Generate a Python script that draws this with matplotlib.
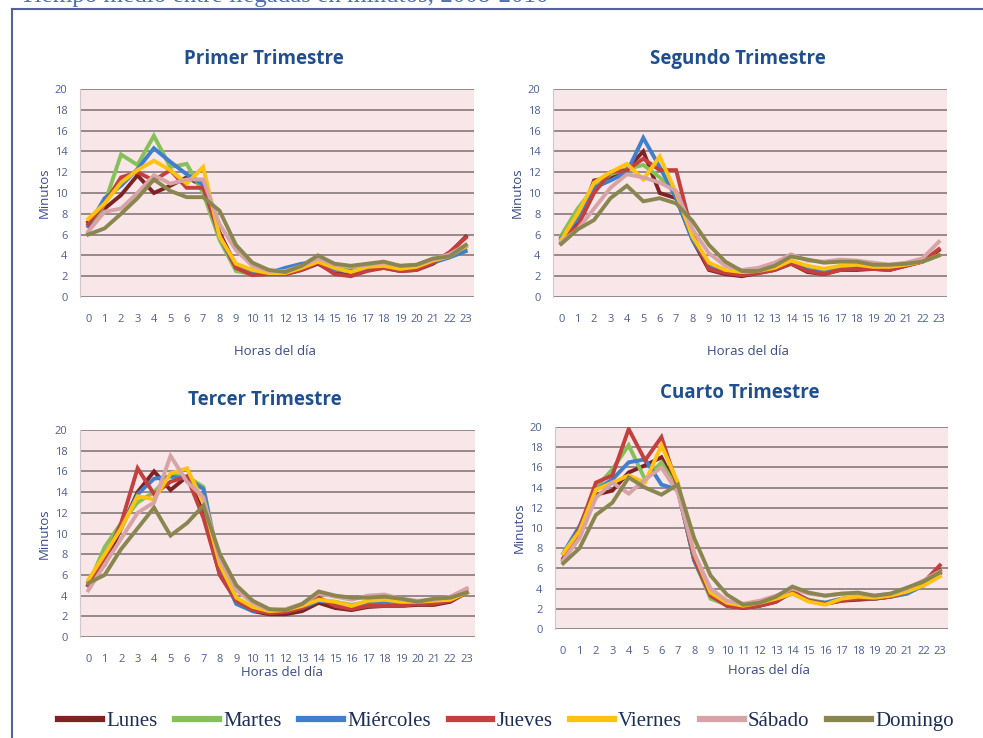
import matplotlib
matplotlib.use("Agg")
import matplotlib.pyplot as plt
from matplotlib.lines import Line2D
import numpy as np

hours = list(range(24))
hour_labels = [str(h) for h in hours]
days = ["Lunes", "Martes", "Miércoles", "Jueves", "Viernes", "Sábado", "Domingo"]
colors = ["#7e2224", "#85c058", "#3f7fcc", "#c4403f", "#ffc20e", "#d8a3a6", "#8a8650"]
titles = ["Primer Trimestre", "Segundo Trimestre", "Tercer Trimestre", "Cuarto Trimestre"]
yticks = [0, 2, 4, 6, 8, 10, 12, 14, 16, 18, 20]

q1_lunes =     [7.2, 8.5, 9.8, 11.7, 10.0, 10.7, 11.5, 10.7, 6.2, 3.0, 2.2, 2.2, 2.2, 2.6, 3.2, 2.3, 2.1, 2.6, 2.8, 2.5, 2.6, 3.2, 4.2, 5.8]
q1_martes =    [6.2, 9.0, 13.7, 12.7, 15.5, 12.5, 12.8, 10.0, 5.5, 2.5, 2.2, 2.3, 2.4, 2.8, 3.5, 2.8, 2.6, 2.9, 3.0, 2.7, 2.8, 3.5, 3.8, 4.8]
q1_miercoles = [6.8, 9.5, 10.7, 12.3, 14.3, 13.0, 11.8, 10.8, 5.8, 2.8, 2.3, 2.3, 2.8, 3.2, 3.4, 2.6, 2.5, 2.7, 2.9, 2.7, 2.7, 3.3, 3.8, 4.4]
q1_jueves =    [7.0, 9.0, 11.5, 12.0, 11.2, 12.2, 10.5, 10.5, 6.0, 2.8, 2.1, 2.2, 2.2, 2.6, 3.3, 2.2, 2.0, 2.5, 2.8, 2.5, 2.6, 3.3, 4.3, 5.7]
q1_viernes =   [7.5, 9.0, 11.0, 12.2, 13.1, 12.2, 10.9, 12.5, 5.8, 3.2, 2.6, 2.3, 2.3, 2.8, 3.4, 2.8, 2.4, 2.9, 3.0, 2.7, 2.9, 3.5, 3.9, 4.9]
q1_sabado =    [6.3, 8.2, 8.5, 10.0, 11.7, 10.9, 11.3, 11.3, 7.0, 4.5, 3.0, 2.5, 2.5, 3.0, 3.7, 3.1, 2.9, 3.1, 3.3, 3.0, 3.1, 3.6, 4.1, 5.0]
q1_domingo =   [6.0, 6.6, 8.0, 9.5, 11.3, 10.2, 9.6, 9.6, 8.3, 5.0, 3.3, 2.6, 2.4, 3.0, 4.0, 3.2, 3.0, 3.2, 3.4, 3.0, 3.1, 3.7, 3.9, 5.0]

q2_lunes =     [5.2, 7.0, 11.2, 11.5, 12.3, 14.0, 10.0, 9.5, 5.5, 2.6, 2.2, 2.0, 2.3, 2.6, 3.2, 2.4, 2.2, 2.6, 2.6, 2.7, 2.6, 3.0, 3.4, 4.5]
q2_martes =    [5.9, 8.5, 10.5, 11.8, 12.3, 12.7, 11.5, 10.0, 5.8, 3.0, 2.5, 2.4, 2.5, 2.8, 3.5, 2.8, 2.6, 2.9, 3.0, 2.9, 2.9, 3.1, 3.4, 4.0]
q2_miercoles = [5.7, 7.5, 10.5, 11.2, 12.0, 15.3, 12.5, 9.5, 5.5, 3.0, 2.5, 2.3, 2.4, 2.6, 3.3, 2.6, 2.4, 2.7, 2.9, 2.8, 2.8, 3.1, 3.4, 4.0]
q2_jueves =    [5.5, 6.8, 10.0, 12.0, 12.2, 13.3, 12.2, 12.2, 6.0, 2.7, 2.3, 2.1, 2.3, 2.6, 3.2, 2.5, 2.2, 2.6, 2.7, 2.7, 2.6, 3.0, 3.4, 4.6]
q2_viernes =   [5.5, 8.0, 11.0, 12.0, 12.8, 11.3, 13.5, 10.0, 5.8, 3.3, 2.6, 2.4, 2.5, 2.8, 3.5, 3.0, 2.7, 3.0, 3.1, 2.9, 2.9, 3.1, 3.4, 4.0]
q2_sabado =    [5.3, 6.5, 8.5, 10.5, 11.8, 11.5, 11.0, 10.2, 6.5, 4.2, 3.0, 2.6, 2.8, 3.3, 4.1, 3.5, 3.4, 3.6, 3.5, 3.3, 3.1, 3.3, 3.7, 5.3]
q2_domingo =   [5.1, 6.5, 7.4, 9.5, 10.7, 9.2, 9.5, 9.0, 7.3, 5.0, 3.4, 2.5, 2.5, 3.0, 3.9, 3.6, 3.3, 3.4, 3.4, 3.1, 3.1, 3.2, 3.4, 4.0]

q3_lunes =     [5.0, 7.0, 10.5, 14.0, 16.0, 14.2, 15.5, 12.0, 6.0, 3.5, 2.5, 2.2, 2.2, 2.5, 3.3, 2.8, 2.6, 2.9, 3.0, 3.0, 3.1, 3.1, 3.4, 4.3]
q3_martes =    [5.0, 8.7, 11.0, 13.0, 14.0, 15.7, 15.5, 14.5, 6.8, 3.2, 2.5, 2.5, 2.6, 2.9, 3.6, 3.4, 3.1, 3.4, 3.4, 3.2, 3.3, 3.4, 3.6, 4.3]
q3_miercoles = [5.0, 8.0, 10.5, 13.8, 15.3, 15.5, 15.3, 14.3, 6.5, 3.2, 2.5, 2.5, 2.5, 2.8, 3.5, 3.3, 3.0, 3.3, 3.4, 3.2, 3.2, 3.3, 3.6, 4.3]
q3_jueves =    [5.0, 7.5, 11.0, 16.3, 13.8, 15.0, 15.5, 11.5, 6.0, 3.5, 2.6, 2.3, 2.4, 2.8, 3.8, 3.0, 2.7, 3.0, 3.0, 3.0, 3.2, 3.2, 3.5, 4.3]
q3_viernes =   [5.5, 8.0, 10.5, 13.6, 13.3, 15.8, 16.3, 13.0, 7.0, 3.8, 2.9, 2.5, 2.6, 3.0, 3.6, 3.4, 3.0, 3.5, 3.6, 3.4, 3.4, 3.5, 3.6, 4.3]
q3_sabado =    [4.5, 7.0, 9.5, 12.0, 13.0, 17.5, 15.0, 13.5, 7.5, 4.5, 3.3, 2.6, 2.7, 3.2, 4.2, 3.9, 3.6, 4.0, 4.1, 3.7, 3.5, 3.6, 3.9, 4.7]
q3_domingo =   [5.2, 6.0, 8.5, 10.5, 12.5, 9.8, 11.0, 12.7, 8.0, 5.0, 3.5, 2.7, 2.6, 3.2, 4.4, 4.0, 3.8, 3.8, 3.9, 3.7, 3.4, 3.7, 3.8, 4.3]

q4_lunes =     [6.8, 9.5, 13.3, 13.7, 15.5, 16.2, 17.0, 13.8, 6.8, 3.3, 2.3, 2.1, 2.3, 2.7, 3.7, 2.8, 2.5, 2.8, 2.9, 3.0, 3.2, 3.7, 4.5, 5.8]
q4_martes =    [7.0, 10.0, 14.0, 15.8, 18.2, 14.8, 16.5, 13.8, 6.8, 3.0, 2.4, 2.3, 2.5, 2.9, 3.6, 2.9, 2.6, 3.0, 3.1, 3.1, 3.2, 3.5, 4.4, 5.5]
q4_miercoles = [7.5, 10.2, 13.8, 14.8, 16.5, 16.8, 14.3, 13.8, 6.8, 3.3, 2.4, 2.3, 2.5, 2.9, 3.5, 2.8, 2.6, 3.0, 3.1, 3.0, 3.2, 3.5, 4.3, 5.5]
q4_jueves =    [7.0, 10.0, 14.5, 15.2, 19.8, 16.7, 19.0, 14.0, 7.0, 3.3, 2.3, 2.1, 2.3, 2.7, 3.7, 2.8, 2.5, 2.8, 3.0, 3.0, 3.2, 3.7, 4.6, 6.3]
q4_viernes =   [7.5, 9.7, 13.8, 14.5, 15.2, 14.5, 18.2, 14.5, 7.5, 3.6, 2.6, 2.3, 2.6, 3.0, 3.5, 2.7, 2.4, 3.0, 3.2, 3.1, 3.3, 3.7, 4.3, 5.2]
q4_sabado =    [6.8, 9.0, 13.0, 14.5, 13.4, 14.8, 16.0, 13.5, 7.5, 4.0, 2.8, 2.5, 2.8, 3.3, 4.0, 3.5, 3.3, 3.5, 3.5, 3.3, 3.5, 4.0, 4.8, 5.7]
q4_domingo =   [6.5, 8.0, 11.3, 12.5, 15.0, 14.0, 13.3, 14.3, 9.0, 5.3, 3.4, 2.4, 2.6, 3.2, 4.2, 3.6, 3.3, 3.5, 3.6, 3.3, 3.5, 4.1, 4.7, 5.6]

quarters = [
    [q1_lunes, q1_martes, q1_miercoles, q1_jueves, q1_viernes, q1_sabado, q1_domingo],
    [q2_lunes, q2_martes, q2_miercoles, q2_jueves, q2_viernes, q2_sabado, q2_domingo],
    [q3_lunes, q3_martes, q3_miercoles, q3_jueves, q3_viernes, q3_sabado, q3_domingo],
    [q4_lunes, q4_martes, q4_miercoles, q4_jueves, q4_viernes, q4_sabado, q4_domingo],
]

W, H = 983, 738
fig = plt.figure(figsize=(W / 100, H / 100), dpi=100)
fig.patch.set_facecolor("white")

def px_rect(x0, x1, ytop, ybot):
    return [x0 / W, 1 - ybot / H, (x1 - x0) / W, (ybot - ytop) / H]

# axes pixel boxes: (x0, x1, ytop, ybot), title (x, y), xlabel (x, y)
boxes = [
    (80, 474, 89, 297, 264, 59, 275, 352),
    (553, 947, 89, 297, 738, 59, 748, 352),
    (80, 475, 430, 637, 265, 400, 282, 673),
    (555, 948, 427, 629, 740, 393, 769, 670),
]

title_color = "#1f4f8f"
tick_color = "#4e5f95"
label_color = "#3a4a8c"
grid_color = "#8f8283"

handles = None
for qi, (x0, x1, yt, yb, tx, ty, lx, ly) in enumerate(boxes):
    ax = fig.add_axes(px_rect(x0, x1, yt, yb))
    ax.set_facecolor("#f8e6e8")
    lines = []
    for di, day in enumerate(days):
        ln, = ax.plot(hours, quarters[qi][di], color=colors[di], lw=2.8,
                      solid_joinstyle="miter", label=day, zorder=3 + di)
        lines.append(ln)
    if handles is None:
        handles = lines
    ax.set_xlim(-0.5, 23.5)
    ax.set_ylim(0, 20)
    ax.set_yticks(yticks)
    ax.set_xticks(hours)
    ax.set_xticklabels(hour_labels)
    ax.yaxis.grid(True, color=grid_color, lw=1.3, zorder=1)
    ax.set_axisbelow(True)
    ax.tick_params(axis="both", length=0, labelsize=8, labelcolor=tick_color,
                   labelfontfamily="Open Sans")
    ax.tick_params(axis="y", pad=9)
    ax.tick_params(axis="x", pad=12)
    for s in ["top", "right", "bottom"]:
        ax.spines[s].set_visible(False)
    ax.spines["left"].set_color("#d0c8cc")
    ax.spines["left"].set_linewidth(0.8)
    ax.set_ylabel("Minutos", fontsize=9.5, color=label_color, family="Open Sans", labelpad=3)
    fig.text(tx / W, 1 - ty / H, titles[qi], ha="center", va="center",
             fontsize=13.5, fontweight="bold", color=title_color, family="Open Sans")
    fig.text(lx / W, 1 - ly / H, "Horas del día", ha="center", va="center",
             fontsize=9.5, color=label_color, family="Open Sans")

# frame lines
fig.add_artist(Line2D([12 / W, 12 / W], [0, 1 - 9 / H], color="#56609c", lw=1.5))
fig.add_artist(Line2D([12 / W, 1], [1 - 9 / H, 1 - 9 / H], color="#56609c", lw=1.5))

# main title (cropped at the top edge as in the reference)
fig.text(20 / W, 1 + 4 / H, "Tiempo medio entre llegadas en minutos, 2008-2010",
         ha="left", va="center", fontsize=18, color="#4f6fb5", family="Liberation Serif")

leg = fig.legend(handles=handles, labels=days, loc="center", bbox_to_anchor=(506 / W, 1 - 721 / H),
                 ncol=7, frameon=False, handlelength=2.1, handletextpad=0.2, columnspacing=0.85,
                 prop={"family": "Liberation Serif", "size": 15})
for t in leg.get_texts():
    t.set_color("#1d2f55")
for l in leg.get_lines():
    l.set_linewidth(4.5)

fig.savefig("out.png", dpi=100)
